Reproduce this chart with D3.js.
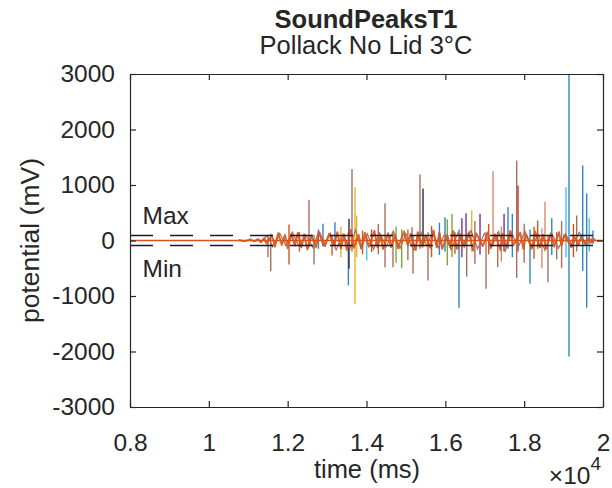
<!DOCTYPE html>
<html>
<head>
<meta charset="utf-8">
<script src="https://cdn.jsdelivr.net/npm/d3@7"></script>
<style>
  body { margin: 0; background: #fff; }
  text { font-family: "Liberation Sans", Helvetica, Arial, sans-serif; fill: #262626; }
</style>
</head>
<body>
<div id="chart"></div>
<script>
// peaks (time in ms, potential in mV)
var spikeTime = [11501, 11570, 12034, 12541, 12668, 12896, 13125, 13200, 13540, 13556,
    13632, 13708, 13750, 14005, 14130, 14470, 14672, 14893, 15155, 15180,
    15357, 15434, 15560, 15992, 16170, 16245, 16347, 16525, 16542, 16669,
    16880, 17032, 17210, 17329, 17490, 17590, 17810, 17844, 18148, 18343,
    18528, 18604, 18825, 19061, 19137, 19333, 19485, 19586, 19746,
    12300, 12780, 13350, 13900, 14300, 14750, 15050, 15650, 15850, 16050,
    16420, 16750, 17100, 17420, 17700, 18000, 18250, 18450, 18700, 18950,
    19250, 19650];
var spikeHigh = [60, 120, 288, 733, 100, 300, 80, 330, 150, 390,
    1290, 960, 450, 100, 200, 673, 150, 200, 240, 100,
    1190, 937, 150, 420, 480, 150, 200, 492, 100, 540,
    480, 150, 1250, 150, 480, 600, 1440, 990, 200, 360,
    700, 100, 150, 960, 3000, 450, 1350, 850, 180,
    150, 200, 250, 180, 300, 250, 200, 260, 320, 380,
    400, 350, 300, 250, 480, 300, 250, 220, 400, 350,
    300, 400];
var spikeLow = [-300, -553, -432, -120, -432, -100, -270, -80, -810, -510,
    -200, -1140, -300, -360, -210, -480, -480, -500, -100, -600,
    -150, -100, -720, -200, -300, -240, -1213, -100, -650, -200,
    -250, -870, -100, -480, -200, -150, -673, -200, -780, -150,
    -200, -750, -340, -300, -2090, -200, -550, -1210, -60,
    -200, -150, -300, -250, -250, -400, -350, -300, -260, -450,
    -300, -420, -250, -380, -300, -400, -330, -500, -260, -500,
    -300, -200];
var spikeColor = ["brown", "brown", "orange", "brown", "brown", "blue", "orange", "blue", "blue", "navy",
    "brown", "yellow", "yellow", "lightblue", "orange", "brown", "brown", "green", "brown", "brown",
    "brown", "navy", "brown", "blue", "green", "orange", "blue", "purple", "brown", "yellow",
    "purple", "brown", "salmon", "brown", "purple", "blue", "brown", "red", "blue", "orange",
    "salmon", "brown", "brown", "lightblue", "blue", "brown", "blue", "blue", "blue",
    "orange", "blue", "yellow", "orange", "brown", "green", "brown", "orange", "blue", "green",
    "purple", "brown", "orange", "salmon", "blue", "brown", "orange", "salmon", "blue", "brown",
    "orange", "lightblue"];

// the dense noise band around zero
var noiseTime = [10750, 10900, 11050, 11150, 11250, 11320, 11400, 11460, 11600, 11680,
    11760, 11850, 11930, 12000, 12100, 12180, 12260, 12350, 12420, 12500,
    12600, 12720, 12800, 12950, 13050, 13180, 13260, 13350, 13430, 13500,
    13600, 13680, 13800, 13880, 13960, 14060, 14200, 14280, 14360, 14420,
    14550, 14620, 14720, 14800, 14950, 15050, 15120, 15250, 15300, 15420,
    15500, 15620, 15700, 15780, 15850, 15920, 16050, 16120, 16200, 16300,
    16400, 16460, 16600, 16700, 16780, 16950, 17080, 17150, 17260, 17400,
    17450, 17550, 17650, 17720, 17900, 17980, 18050, 18200, 18280, 18400,
    18480, 18560, 18680, 18760, 18880, 18950, 19020, 19200, 19260, 19380,
    19440, 19550, 19640, 19700, 19800];
var noiseValue = [10, -15, 20, -15, 25, -30, 40, -50,
    90, -110, 130, -80, 100, -140, 120, -90, 140, -120,
    110, -160, 90, -120, 150, -100, 120, -90, 150, -140,
    110, -170, 190, -130, 100, -150, 140, -110, 170, -120,
    90, -150, 130, -120, 100, -140, 160, -90, 120, -170,
    150, -110, 90, -130, 180, -120, 140, -150, 100, -120,
    170, -150, 120, -90, 150, -180, 130, -100, 150, -140,
    110, -170, 120, -120, 170, -90, 140, -150, 110, -130,
    160, -120, 100, -150, 130, -110, 150, -90, 100, -120,
    80, -70, 60, -60, 50, -40, 30];

// a second, darker trace inside the band
var noise2Time = [11300, 11480, 11620, 11800, 11950, 12120, 12300, 12460, 12650, 12780,
    12900, 13080, 13230, 13400, 13580, 13720, 13850, 14020, 14180, 14330,
    14500, 14680, 14850, 15000, 15200, 15380, 15530, 15680, 15820, 15980,
    16150, 16320, 16480, 16650, 16820, 16990, 17180, 17350, 17520, 17680,
    17850, 18020, 18180, 18350, 18520, 18700, 18870, 19050, 19220, 19400,
    19580, 19750];
var noise2Value = [-40, 90, -110, 130, -90, 150, -120, 100, -140, 160,
    -100, 130, -170, 110, -150, 190, -130, 120, -160, 140,
    -110, 170, -140, 120, -180, 150, -100, 160, -130, 110,
    -170, 140, -120, 180, -150, 130, -110, 160, -190, 140,
    -120, 170, -150, 110, -160, 130, -140, 120, -100, 150,
    -80, 60];

var thresholdValues = [90, -90];
var xTicks = [8000, 10000, 12000, 14000, 16000, 18000, 20000];
var yTicks = [-3000, -2000, -1000, 0, 1000, 2000, 3000];

var palette = {
    blue: "#2f86c2", orange: "#d95319", yellow: "#e9b22a", purple: "#7e2f8e",
    green: "#77ac30", lightblue: "#4dbeee", red: "#c0392b", brown: "#a8705c",
    salmon: "#d98a6c", navy: "#2a2a48"
};

var w = 612, h = 488;
var margin = {top: 74, right: 9, bottom: 81, left: 130};
var width = w - margin.left - margin.right,
    height = h - margin.top - margin.bottom;

var xScale = d3.scaleLinear().domain([8000, 20000]).range([0, width]);
var yScale = d3.scaleLinear().domain([-3000, 3000]).range([height, 0]);

var svg = d3.select("#chart").append("svg")
    .attr("width", w)
    .attr("height", h);

svg.append("defs").append("clipPath").attr("id", "clip")
  .append("rect").attr("width", width).attr("height", height);

var g = svg.append("g").attr("transform", "translate(" + margin.left + "," + margin.top + ")");
var plot = g.append("g").attr("clip-path", "url(#clip)");

var spikes = spikeTime.map(function(t, i) {
    return {t: t, hi: spikeHigh[i], lo: spikeLow[i], c: spikeColor[i]};
});

plot.selectAll(".spike")
    .data(spikes)
  .enter().append("line")
    .attr("class", "spike")
    .attr("x1", function(d) { return xScale(d.t); })
    .attr("x2", function(d) { return xScale(d.t); })
    .attr("y1", function(d) { return yScale(d.lo); })
    .attr("y2", function(d) { return yScale(d.hi); })
    .attr("stroke", function(d) { return palette[d.c]; })
    .attr("stroke-width", 1.4);

var line = d3.line()
    .x(function(d) { return xScale(d[0]); })
    .y(function(d) { return yScale(d[1]); });

plot.append("path")
    .datum(noise2Time.map(function(t, i) { return [t, noise2Value[i]]; }))
    .attr("fill", "none")
    .attr("stroke", palette.brown)
    .attr("stroke-width", 1.2)
    .attr("d", line);

plot.append("path")
    .datum(noiseTime.map(function(t, i) { return [t, noiseValue[i]]; }))
    .attr("fill", "none")
    .attr("stroke", palette.orange)
    .attr("stroke-opacity", 0.9)
    .attr("stroke-width", 2)
    .attr("stroke-linejoin", "round")
    .attr("d", line);

plot.selectAll(".thresh")
    .data(thresholdValues)
  .enter().append("line")
    .attr("class", "thresh")
    .attr("x1", 0)
    .attr("x2", width)
    .attr("y1", function(d) { return yScale(d); })
    .attr("y2", function(d) { return yScale(d); })
    .attr("stroke", "#1a1a2a")
    .attr("stroke-width", 1.3)
    .attr("stroke-dasharray", "23,17");

plot.append("line")
    .attr("x1", 0).attr("x2", width)
    .attr("y1", yScale(0)).attr("y2", yScale(0))
    .attr("stroke", palette.orange)
    .attr("stroke-width", 1.3);

// axes, ticks point inward on all four sides
var fmtX = function(d) { return String(+(d / 1e4).toFixed(1)); };
var fmtY = function(d) { return String(d); };

g.append("g")
    .attr("transform", "translate(0," + height + ")")
    .call(d3.axisBottom(xScale).tickValues(xTicks).tickFormat(fmtX).tickSize(-6).tickSizeOuter(0).tickPadding(27));
g.append("g")
    .call(d3.axisLeft(yScale).tickValues(yTicks).tickFormat(fmtY).tickSize(-6).tickSizeOuter(0).tickPadding(15));
g.append("g")
    .call(d3.axisTop(xScale).tickValues(xTicks).tickFormat("").tickSize(-6).tickSizeOuter(0));
g.append("g")
    .attr("transform", "translate(" + width + ",0)")
    .call(d3.axisRight(yScale).tickValues(yTicks).tickFormat("").tickSize(-6).tickSizeOuter(0));

g.selectAll(".domain, .tick line").attr("stroke", "#262626").attr("stroke-width", 1.2);
g.selectAll(".tick text")
    .attr("font-size", 24.5)
    .attr("font-family", "Liberation Sans, Helvetica, Arial, sans-serif")
    .attr("fill", "#262626");

// Max / Min labels
g.append("text").attr("x", 12.5).attr("y", 150).attr("font-size", 24.5).text("Max");
g.append("text").attr("x", 12.5).attr("y", 203).attr("font-size", 24.5).text("Min");

// titles and labels
svg.append("text")
    .attr("x", 366).attr("y", 28)
    .attr("text-anchor", "middle")
    .attr("font-size", 25.5)
    .attr("font-weight", "bold")
    .text("SoundPeaksT1");
svg.append("text")
    .attr("x", 366).attr("y", 54)
    .attr("text-anchor", "middle")
    .attr("font-size", 25.5)
    .text("Pollack No Lid 3°C");
svg.append("text")
    .attr("x", 367).attr("y", 478)
    .attr("text-anchor", "middle")
    .attr("font-size", 25.5)
    .text("time (ms)");
svg.append("text")
    .attr("transform", "translate(39," + (margin.top + height / 2) + ") rotate(-90)")
    .attr("text-anchor", "middle")
    .attr("font-size", 26.5)
    .text("potential (mV)");

var ex = svg.append("text")
    .attr("x", 601).attr("y", 484)
    .attr("text-anchor", "end")
    .attr("font-size", 24.5);
ex.append("tspan").text("×10");
ex.append("tspan").attr("font-size", 19).attr("dy", -14).text("4");
</script>
</body>
</html>
